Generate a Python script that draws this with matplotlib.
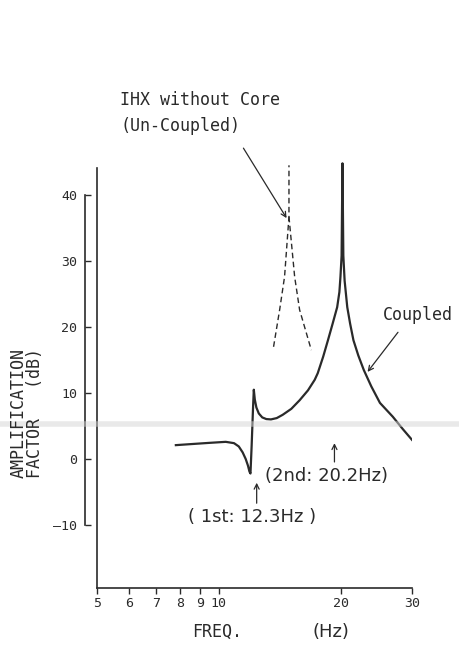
import matplotlib
matplotlib.use("Agg")
import matplotlib.pyplot as plt
from matplotlib.lines import Line2D

# Coupled response (solid)
coupled_freq = [7.83, 8.5, 9.5, 10.4, 10.9, 11.2, 11.45, 11.65, 11.8, 11.9,
                11.97, 12.05, 12.15, 12.2, 12.27, 12.38, 12.55, 12.8, 13.1, 13.45,
                13.9, 14.38, 15.1, 15.83, 16.6, 17.25, 17.55, 18.1, 18.6, 19.1,
                19.6, 19.85, 19.97, 20.1, 20.2, 20.3, 20.45, 20.76, 21.1, 21.5,
                22.1, 22.8, 23.8, 25.0, 26.9, 28.5, 30.0]
coupled_db = [2.1, 2.25, 2.45, 2.6, 2.4, 1.9, 1.0, 0.0, -1.0, -1.9,
              -2.2, 2.0, 8.0, 10.5, 9.0, 7.8, 6.9, 6.3, 6.05, 6.0,
              6.2, 6.7, 7.6, 8.9, 10.4, 12.0, 13.0, 15.5, 18.0, 20.5,
              23.0, 25.3, 27.6, 30.8, 44.8, 30.8, 27.0, 23.0, 20.5, 18.0,
              15.7, 13.5, 11.0, 8.5, 6.4, 4.5, 2.9]

# Un-coupled response (dashed), two branches
uncoupled_left_freq = [13.65, 14.13, 14.53, 14.9, 14.9]
uncoupled_left_db = [17.0, 22.6, 27.6, 36.7, 44.5]
uncoupled_right_freq = [14.9, 15.39, 15.83, 16.92]
uncoupled_right_db = [36.7, 27.6, 22.6, 16.5]

xticks = [5, 6, 7, 8, 9, 10, 20, 30]
xtick_labels = ["5", "6", "7", "8", "9", "10", "20", "30"]
yticks = [-10, 0, 10, 20, 30, 40]
ytick_labels = ["\u201410", "0", "10", "20", "30", "40"]

W, H = 459, 651
ink = "#2a2a2a"
mono = "DejaVu Sans Mono"


def fx(px):
    return px / W


def fy(py):
    return 1 - py / H


fig = plt.figure(figsize=(W / 100, H / 100), dpi=100)
ax = fig.add_axes([fx(97), fy(587.7), fx(412) - fx(97), fy(155.4) - fy(587.7)])
ax.set_xscale("log")
ax.set_xlim(5, 30)
ax.set_ylim(-19.5, 46)

ax.plot(coupled_freq, coupled_db, color=ink, lw=1.6, solid_joinstyle="round")
ax.plot(uncoupled_left_freq, uncoupled_left_db, color=ink, lw=1.0, ls=(0, (4, 2.5)))
ax.plot(uncoupled_right_freq, uncoupled_right_db, color=ink, lw=1.0, ls=(0, (4, 2.5)))

# frame line on the left
ax.plot([5, 5], [-19.5, 44.1], color=ink, lw=1.2, clip_on=False)

for s in ["top", "right"]:
    ax.spines[s].set_visible(False)
ax.spines["bottom"].set_color(ink)
ax.spines["bottom"].set_linewidth(1.2)
ax.spines["left"].set_position(("outward", 8.6))
ax.spines["left"].set_bounds(-10, 40)
ax.spines["left"].set_color(ink)
ax.spines["left"].set_linewidth(1.2)

ax.set_xticks(xticks)
ax.set_xticklabels(xtick_labels, family=mono, fontsize=9.5, color=ink)
ax.xaxis.set_minor_locator(matplotlib.ticker.NullLocator())
ax.tick_params(axis="x", direction="out", length=4, width=1, pad=3, colors=ink)
ax.set_yticks(yticks)
ax.set_yticklabels(ytick_labels, family=mono, fontsize=9.5, color=ink)
ax.tick_params(axis="y", direction="in", length=4, width=1, pad=5.5, colors=ink)
ax.patch.set_visible(False)

arrow = dict(arrowstyle="->", color=ink, lw=0.9, shrinkA=0, shrinkB=0,
             mutation_scale=9)
ax.annotate("", xy=(14.7, 36.5), xytext=(11.5, 47.1), arrowprops=arrow,
            annotation_clip=False)
ax.annotate("", xy=(23.3, 13.2), xytext=(27.7, 19.2), arrowprops=arrow)
ax.annotate("", xy=(19.3, 2.4), xytext=(19.3, -0.45), arrowprops=arrow)
ax.annotate("", xy=(12.4, -3.6), xytext=(12.4, -6.7), arrowprops=arrow)

fig.text(fx(120), fy(100), "IHX without Core", family=mono, fontsize=12,
         color=ink, va="center")
fig.text(fx(120), fy(126), "(Un-Coupled)", family=mono, fontsize=12,
         color=ink, va="center")
fig.text(fx(383), fy(315), "Coupled", family=mono, fontsize=12,
         color=ink, va="center")
fig.text(fx(265), fy(476), "(2nd: 20.2Hz)", family="DejaVu Sans", fontsize=13,
         color=ink, va="center")
fig.text(fx(188), fy(517), "( 1st: 12.3Hz )", family="DejaVu Sans", fontsize=13,
         color=ink, va="center")
fig.text(fx(192), fy(632), "FREQ.", family=mono, fontsize=12,
         color=ink, va="center")
fig.text(fx(313), fy(632), "(Hz)", family="DejaVu Sans", fontsize=13,
         color=ink, va="center")
fig.text(fx(18.5), fy(413), "AMPLIFICATION", family=mono, fontsize=12,
         color=ink, va="center", ha="center", rotation=90)
fig.text(fx(35), fy(413), "FACTOR   (dB)", family=mono, fontsize=12,
         color=ink, va="center", ha="center", rotation=90)

# faint scan fold across the page
fig.add_artist(Line2D([0, 1], [fy(424), fy(424)], transform=fig.transFigure,
                      color="#d4d4d4", lw=4, alpha=0.5))

fig.savefig("out.png", dpi=100)
